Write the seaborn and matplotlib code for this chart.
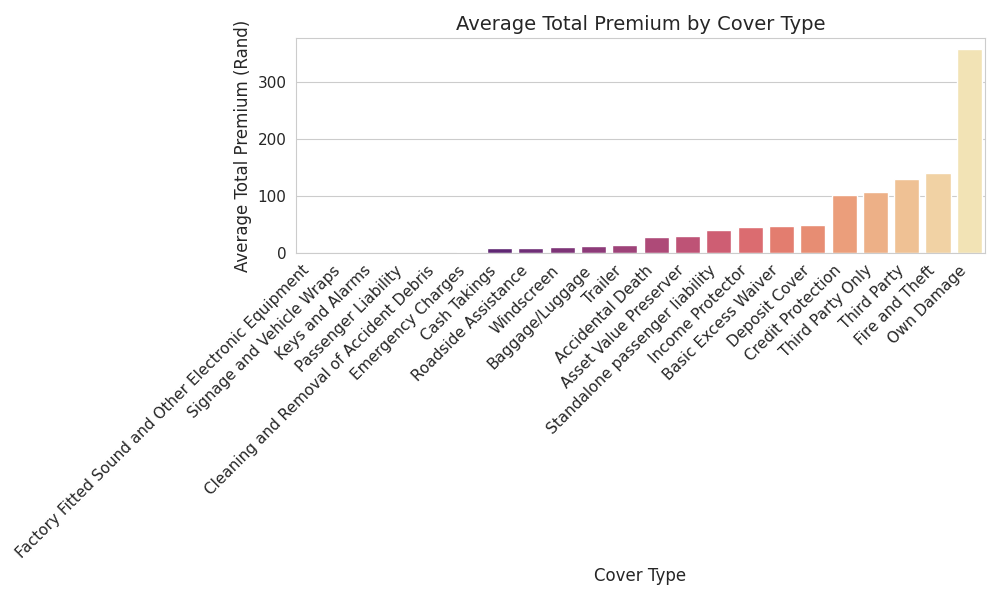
import matplotlib
matplotlib.use("Agg")
import matplotlib.pyplot as plt
import seaborn as sns
import pandas as pd

cover_types = [
    "Factory Fitted Sound and Other Electronic Equipment", "Signage and Vehicle Wraps",
    "Keys and Alarms", "Passenger Liability", "Cleaning and Removal of Accident Debris",
    "Emergency Charges", "Cash Takings", "Roadside Assistance", "Windscreen",
    "Baggage/Luggage", "Trailer", "Accidental Death", "Asset Value Preserver",
    "Standalone passenger liability", "Income Protector", "Basic Excess Waiver",
    "Deposit Cover", "Credit Protection", "Third Party Only", "Third Party",
    "Fire and Theft", "Own Damage",
]
avg_premium = [0.1, 0.2, 0.5, 0.6, 0.9, 1.2, 9, 9.5, 11, 12, 15, 28, 30, 41, 46, 47,
               50, 102, 107, 130, 141, 359]

df = pd.DataFrame({"CoverType": cover_types, "TotalPremium": avg_premium})

sns.set_style("whitegrid")
fig, ax = plt.subplots(figsize=(10, 6), dpi=100)
sns.barplot(data=df, x="CoverType", y="TotalPremium", hue="CoverType",
            palette="magma", legend=False, ax=ax)
ax.set_title("Average Total Premium by Cover Type", fontsize=14)
ax.set_xlabel("Cover Type", fontsize=12)
ax.set_ylabel("Average Total Premium (Rand)", fontsize=12)
plt.xticks(rotation=45, ha="right", fontsize=11)
plt.yticks(fontsize=11)
plt.tight_layout()
plt.savefig("out.png")
